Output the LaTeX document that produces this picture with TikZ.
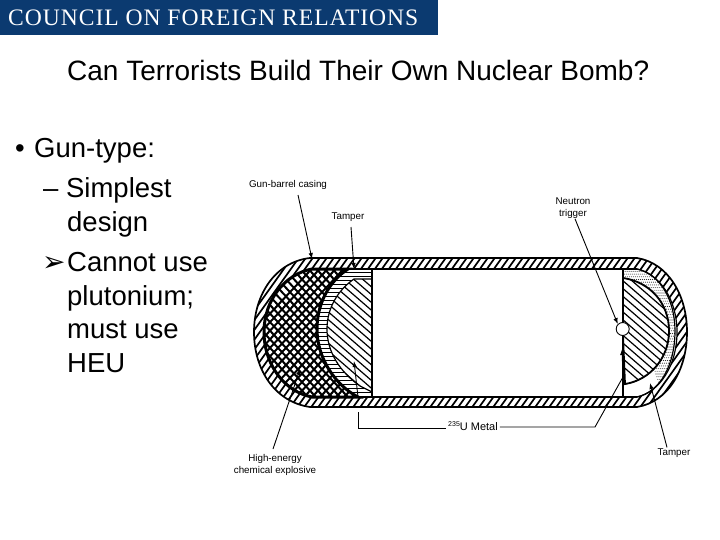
\documentclass[tikz,border=0pt]{standalone}
\usepackage{fontspec}
\setmainfont{Liberation Sans}
\newfontfamily\hdrfont[LetterSpace=4]{Liberation Serif}
\usetikzlibrary{arrows.meta}
\definecolor{hdrblue}{HTML}{0B3A70}
\newcommand{\outerpath}{(310,258) -- (637,258) .. controls (668,263) and (687,295) .. (687,332) .. controls (687,370) and (668,402) .. (637,407) -- (310,407) .. controls (275,402) and (254,370) .. (254,332) .. controls (254,295) and (275,262) .. (310,258) -- cycle}
\newcommand{\innerpath}{(312,269) -- (637,269) .. controls (660,274) and (677,300) .. (677,332) .. controls (677,365) and (660,392) .. (637,397) -- (312,397) .. controls (285,392) and (264,365) .. (264,332) .. controls (264,300) and (285,274) .. (312,269) -- cycle}
\newcommand{\hepath}{(312,269) -- (348,269) .. controls (328,282) and (317,305) .. (317,329) .. controls (317,358) and (335,385) .. (358,397) -- (312,397) .. controls (285,392) and (264,365) .. (264,332) .. controls (264,300) and (285,274) .. (312,269) -- cycle}
\newcommand{\tamperL}{(348,269) -- (372,269) -- (372,390) -- (372,397) -- (358,397) .. controls (335,385) and (317,358) .. (317,329) .. controls (317,305) and (328,282) .. (348,269) -- cycle}
\newcommand{\uL}{(372,279) -- (372,392) -- (360,386) .. controls (340,372) and (327,352) .. (327,329) .. controls (327,308) and (338,290) .. (354,279) -- cycle}
\newcommand{\uR}{(623,278) .. controls (650,282) and (669,303) .. (669,331) .. controls (669,358) and (650,380) .. (625,384) -- (623,336) -- (623,322) -- cycle}
\newcommand{\tamperR}{(623,269) -- (637,269) .. controls (660,274) and (675,300) .. (675,331) .. controls (675,365) and (660,392) .. (637,397) -- (623,397) -- (623,384) -- (625,384) .. controls (650,380) and (669,358) .. (669,331) .. controls (669,303) and (650,282) .. (623,278) -- cycle}
\tikzset{
  slide/.style={font=\fontsize{27.5}{30}\selectfont,anchor=base west,inner sep=0pt,text=black},
  lab/.style={font=\fontsize{9.8}{12.5}\selectfont,align=center,inner sep=0pt,text=black},
  leader/.style={draw=black,line width=0.9pt},
  leadarrow/.style={leader,-{Latex[length=6pt,width=4.5pt]}},
  wall/.style={draw=black,line width=1.8pt}
}
\begin{document}
\begin{tikzpicture}[x=1pt,y=-1pt]
\useasboundingbox (0,0) rectangle (720,540);
\fill[hdrblue] (0,0) rectangle (438,35);
\node[anchor=base west,inner sep=0pt,text=white,font=\hdrfont\fontsize{23.6}{26}\selectfont] (hdr) at (8,26) {COUNCIL ON FOREIGN RELATIONS};
\node[slide,font=\fontsize{28}{30}\selectfont] (title) at (67,81) {Can Terrorists Build Their Own Nuclear Bomb?};
\node[slide] (b0) at (15,158) {•};
\node[slide] (b1) at (34,158) {Gun-type:};
\node[slide] (d1) at (43,197) {– Simplest};
\node[slide] (d2) at (67,231) {design};
\node[slide] (a0) at (42,271) {\fontspec{DejaVu Sans}\fontsize{28}{30}\selectfont ➢};
\node[slide] (a1) at (67,271) {Cannot use};
\node[slide] (a2) at (67,305) {plutonium;};
\node[slide] (a3) at (67,338) {must use};
\node[slide] (a4) at (67,372) {HEU};

% casing hatch
\begin{scope}
  \clip \outerpath;
  \foreach \k in {0,7,...,630} {
    \draw[line width=1.7pt] (120+\k,420) -- (245+\k,245);
  }
\end{scope}
\fill[white] \innerpath;
\draw[line width=1.7pt] \outerpath;
\draw[line width=1.7pt] (312,269) -- (637,269);
\draw[line width=1.7pt] (312,397) -- (637,397);
\draw[line width=1.2pt] (637,269) .. controls (660,274) and (677,300) .. (677,332) .. controls (677,365) and (660,392) .. (637,397);

% high explosive
\begin{scope}
  \clip \hepath;
  \foreach \k in {0,8,...,240} {
    \draw[line width=2pt] (180+\k,410) -- (320+\k,260);
    \draw[line width=2pt] (180+\k,260) -- (320+\k,410);
  }
\end{scope}
\draw[line width=3pt] \hepath;

% left tamper
\begin{scope}
  \clip \tamperL;
  \foreach \k in {0,4,...,132} {
    \draw[line width=0.9pt] (310,268+\k) -- (375,268+\k);
  }
\end{scope}
\draw[line width=1.2pt] \tamperL;
% left uranium
\fill[white] \uL;
\begin{scope}
  \clip \uL;
  \foreach \k in {0,9,...,240} {
    \draw[line width=1.2pt] (190+\k,270) -- (340+\k,400);
  }
\end{scope}
\draw[line width=1.2pt] \uL;
\draw[wall] (372,269) -- (372,397);

% right tamper (stippled)
\begin{scope}
  \clip \tamperR;
  \foreach \i in {0,...,30} \foreach \j in {0,...,50} {
    \fill[black!80] (620+\i*2+\j*0.9,266+\j*2.7) circle (0.55pt);
  }
\end{scope}
\draw[line width=1.2pt] \tamperR;
% right uranium
\fill[white] \uR;
\begin{scope}
  \clip \uR;
  \foreach \k in {0,9,...,200} {
    \draw[line width=1.2pt] (500+\k,260) -- (650+\k,390);
  }
\end{scope}
\draw[line width=1.8pt] \uR;
\draw[wall] (623,269) -- (623,397);
\node[draw=black,fill=white,circle,minimum size=13pt,inner sep=0pt,line width=0.9pt] (trig) at (622.7,329) {};

% labels and leaders
\node[lab] (lgun) at (288,185) {Gun-barrel casing};
\node[lab] (ltampL) at (348,217) {Tamper};
\node[lab] (lneut) at (573,208) {Neutron\\trigger};
\node[lab] (ltampR) at (674,453) {Tamper};
\node[lab] (lhe) at (275,465) {High-energy\\chemical explosive};
\node[lab,font=\fontsize{11}{12}\selectfont,inner xsep=2pt] (lmetal) at (473,426) {\raisebox{3.5pt}{\fontsize{7}{8}\selectfont 235}U Metal};

\coordinate (cgun) at (312,259);
\coordinate (cgunS) at (298,195);
\coordinate (ctampL) at (354,269);
\coordinate (ctampLS) at (351,227);
\coordinate (ctampR) at (650,383);
\coordinate (che) at (292,393);
\coordinate (cheS) at (273,449);
\coordinate (cUa) at (358,412);
\coordinate (cUb) at (358,428);
\coordinate (cUc) at (595,427);
\coordinate (cUd) at (623,377);
\coordinate (cUe) at (622,349);
\coordinate (cUl) at (354,361);
\coordinate (cUm) at (358,397);
\coordinate (cHe2) at (300,369);

\draw[leadarrow] (cgunS) -- (cgun);
\draw[leadarrow] (ctampLS) -- (ctampL);
\draw[leadarrow] (lneut.south) ++(2,0) -- (trig.north west);
\draw[leadarrow] (ltampR.north) ++(-7,-1) -- (ctampR);
\draw[leader] (cheS) -- (che);
\draw[leadarrow] (che) -- (cHe2);
\draw[leadarrow] (cUm) -- (cUl);
\draw[leader] (cUa) -- (cUb) -- (lmetal.west |- cUb);
\draw[leader] (lmetal.east |- cUc) -- (cUc) -- (cUd);
\draw[leadarrow] (cUd) -- (cUe);
\end{tikzpicture}
\end{document}
